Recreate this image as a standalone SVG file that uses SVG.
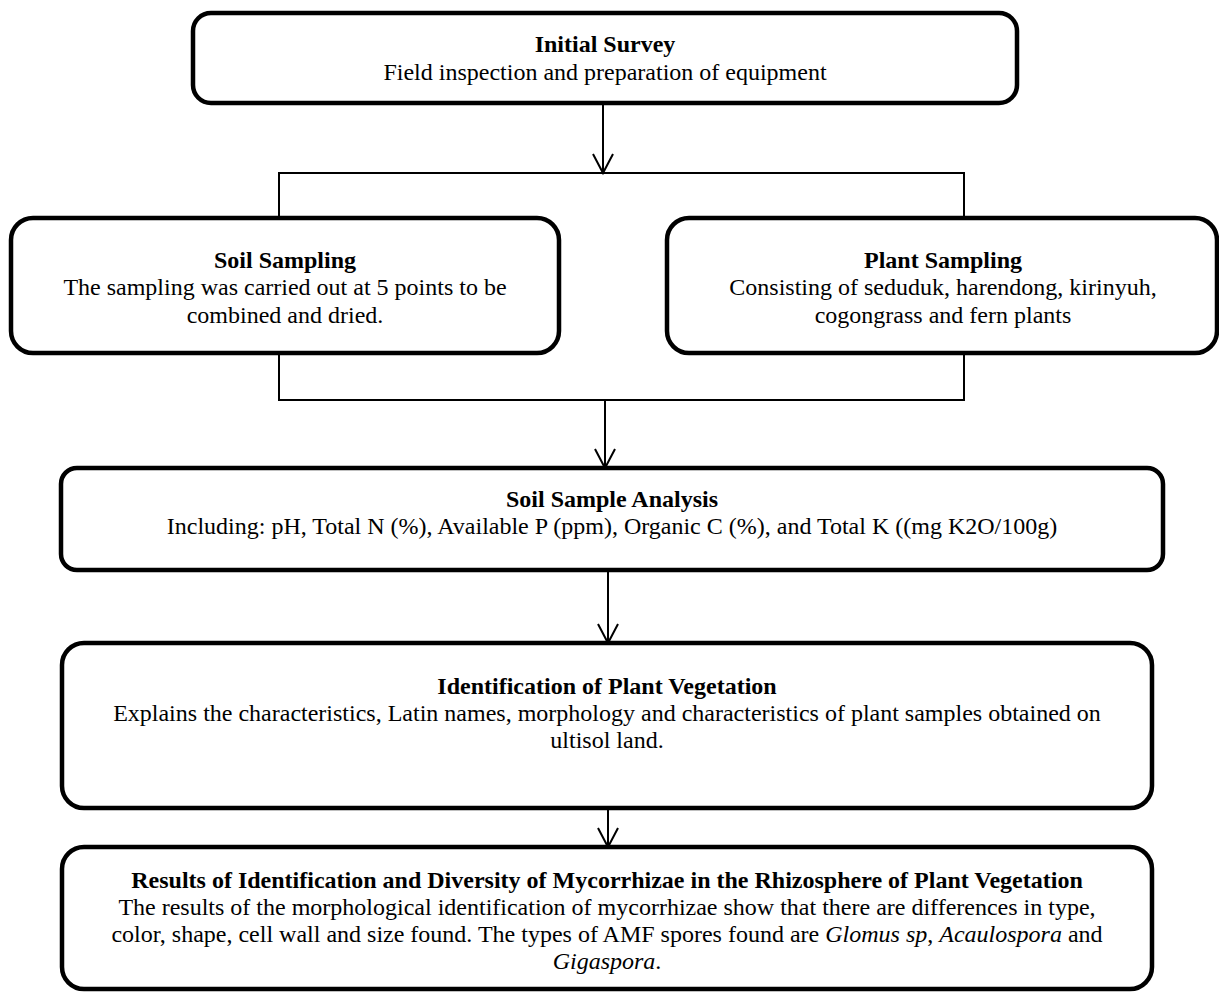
<svg xmlns="http://www.w3.org/2000/svg" width="1219" height="992" viewBox="0 0 1219 992">
<style>
.box{fill:#fff;stroke:#000;stroke-width:4.5}
.t{font-family:"Liberation Serif","Times New Roman",serif;font-size:24px;fill:#000;text-anchor:middle}
.b{font-weight:bold}
.c{fill:none;stroke:#000;stroke-width:2}
</style>
<defs>
<marker id="arr" markerWidth="24" markerHeight="24" refX="12" refY="20" orient="0" markerUnits="userSpaceOnUse">
<path d="M2,1 L12,20 L22,1" fill="none" stroke="#000" stroke-width="2"/>
</marker>
</defs>
<rect width="1219" height="992" fill="#fff"/>
<g id="connectors">
<line class="c" x1="603" y1="104" x2="603" y2="173" marker-end="url(#arr)"/>
<polyline class="c" points="279,218 279,173 964,173 964,218"/>
<polyline class="c" points="279,353 279,400 964,400 964,353"/>
<line class="c" x1="605" y1="400" x2="605" y2="468" marker-end="url(#arr)"/>
<line class="c" x1="608" y1="570" x2="608" y2="643" marker-end="url(#arr)"/>
<line class="c" x1="608" y1="808" x2="608" y2="847" marker-end="url(#arr)"/>
</g>
<g id="initial-survey">
<rect class="box" x="193" y="13" width="824" height="90" rx="18"/>
<text class="t b" x="605" y="52">Initial Survey</text>
<text class="t" x="605" y="80">Field inspection and preparation of equipment</text>
</g>
<g id="soil-sampling">
<rect class="box" x="11" y="218" width="548" height="135" rx="22"/>
<text class="t b" x="285" y="268">Soil Sampling</text>
<text class="t" x="285" y="295">The sampling was carried out at 5 points to be</text>
<text class="t" x="285" y="323">combined and dried.</text>
</g>
<g id="plant-sampling">
<rect class="box" x="667" y="218" width="550" height="135" rx="22"/>
<text class="t b" x="943" y="268">Plant Sampling</text>
<text class="t" x="943" y="295">Consisting of seduduk, harendong, kirinyuh,</text>
<text class="t" x="943" y="323">cogongrass and fern plants</text>
</g>
<g id="soil-sample-analysis">
<rect class="box" x="61" y="468" width="1102" height="102" rx="16"/>
<text class="t b" x="612" y="507">Soil Sample Analysis</text>
<text class="t" x="612" y="534">Including: pH, Total N (%), Available P (ppm), Organic C (%), and Total K ((mg K2O/100g)</text>
</g>
<g id="identification">
<rect class="box" x="62" y="643" width="1090" height="165" rx="22"/>
<text class="t b" x="607" y="694">Identification of Plant Vegetation</text>
<text class="t" x="607" y="721">Explains the characteristics, Latin names, morphology and characteristics of plant samples obtained on</text>
<text class="t" x="607" y="748">ultisol land.</text>
</g>
<g id="results">
<rect class="box" x="62" y="847" width="1090" height="142" rx="22"/>
<text class="t b" x="607" y="888">Results of Identification and Diversity of Mycorrhizae in the Rhizosphere of Plant Vegetation</text>
<text class="t" x="607" y="915">The results of the morphological identification of mycorrhizae show that there are differences in type,</text>
<text class="t" x="607" y="942">color, shape, cell wall and size found. The types of AMF spores found are <tspan font-style="italic">Glomus sp</tspan>, <tspan font-style="italic">Acaulospora</tspan> and</text>
<text class="t" x="607" y="969"><tspan font-style="italic">Gigaspora</tspan>.</text>
</g>
</svg>
